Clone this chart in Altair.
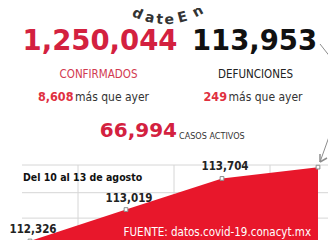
import math
import altair as alt
import pandas as pd

# ---- data ----
day_index = [0, 1, 2, 3]
dates = ["10 ago", "11 ago", "12 ago", "13 ago"]
deaths = [112326, 113019, 113704, 113953]
death_labels = ["112,326", "113,019", "113,704", ""]
grid_values = [112830, 113390, 114000]
grid_days = [0.5, 1.5, 2.5]

confirmed_txt = "1,250,044"
deaths_txt = "113,953"
new_confirmed_txt = "8,608"
new_deaths_txt = "249"
active_txt = "66,994"
arc_chars = ["d", "a", "t", "e", "E", "n"]
arc_angles = [-24, -13, -4.5, 3.5, 15, 29]

RED = "#d3213f"
AREA_RED = "#e8172b"
NARROW = "DejaVu Sans Condensed, DejaVu Sans, sans-serif"
BOLD = "DejaVu Sans"

df = pd.DataFrame({"i": day_index, "fecha": dates, "def": deaths, "lab": death_labels})

xs = alt.Scale(domain=[0, 3], range=[22, 310])
ys = alt.Scale(domain=[112260, 114000], range=[236, 157], zero=False, nice=False)


def txt(text, x, y, size, color, font, weight="normal", align="center", angle=0):
    return alt.Chart(pd.DataFrame({"t": [text]})).mark_text(
        font=font, fontSize=size, fontWeight=weight, color=color,
        align=align, baseline="alphabetic", angle=angle
    ).encode(text="t:N", x=alt.value(x), y=alt.value(y))


layers = []

# gridlines
layers.append(
    alt.Chart(pd.DataFrame({"g": grid_values})).mark_rule(color="#d6d6d6", strokeWidth=1)
    .encode(y=alt.Y("g:Q", scale=ys, axis=None), x=alt.value(14), x2=alt.value(325))
)
layers.append(
    alt.Chart(pd.DataFrame({"gx": grid_days})).mark_rule(color="#d6d6d6", strokeWidth=1)
    .encode(x=alt.X("gx:Q", scale=xs, axis=None), y=alt.value(157), y2=alt.value(236))
)

# area
layers.append(
    alt.Chart(df).mark_area(color=AREA_RED, opacity=1)
    .encode(x=alt.X("i:Q", scale=xs, axis=None),
            y=alt.Y("def:Q", scale=ys, axis=None),
            y2=alt.datum(112260))
)
# points
layers.append(
    alt.Chart(df).mark_square(size=14, fill="white", stroke="#8c8c8c", strokeWidth=1, opacity=1)
    .encode(x=alt.X("i:Q", scale=xs, axis=None), y=alt.Y("def:Q", scale=ys, axis=None))
)
# point labels
layers.append(
    alt.Chart(df).transform_filter("datum.lab != ''")
    .mark_text(font=NARROW, fontSize=11.5, fontWeight="bold", color="#222",
               align="center", baseline="alphabetic", dy=-8, dx=3)
    .encode(x=alt.X("i:Q", scale=xs, axis=None), y=alt.Y("def:Q", scale=ys, axis=None),
            text="lab:N")
)

# headline texts
layers += [
    txt(confirmed_txt, 92, 42, 27.5, RED, BOLD, "bold"),
    txt(deaths_txt, 246.5, 42, 27.5, "#111111", BOLD, "bold"),
    txt("CONFIRMADOS", 90.5, 70, 11.5, "#d23a50", NARROW),
    txt("DEFUNCIONES", 247.5, 70, 11.5, "#222222", NARROW),
    txt(new_confirmed_txt, 65.5, 93, 12.5, "#e0303f", NARROW, "bold", "right"),
    txt("más que ayer", 67, 93, 12, "#333333", NARROW, "normal", "left"),
    txt(new_deaths_txt, 219, 93, 12.5, "#e0303f", NARROW, "bold", "right"),
    txt("más que ayer", 220.5, 93, 12, "#333333", NARROW, "normal", "left"),
    txt(active_txt, 169, 129, 20, RED, BOLD, "bold", "right"),
    txt("CASOS ACTIVOS", 171, 131, 9, "#333333", NARROW, "normal", "left"),
    txt("Del 10 al 13 de agosto", 15, 173, 10.5, "#111111", NARROW, "bold", "left"),
    txt("FUENTE: datos.covid-19.conacyt.mx", 303, 228, 11.5, "white", NARROW, "normal", "right"),
]

# curved hashtag text
cx, cy, r = 157, -56, 72
for ch, phi in zip(arc_chars, arc_angles):
    rad = math.radians(phi)
    x = cx + r * math.sin(rad)
    y = cy + r * math.cos(rad)
    ang = (-phi) % 360
    layers.append(txt(ch, x, y, 14, "#333333", BOLD, "bold", "center", ang))

# arrow from the headline number to the last point
layers.append(alt.Chart(pd.DataFrame({"a": [0]})).mark_rule(color="#8c8c8c", strokeWidth=1)
              .encode(x=alt.value(312), y=alt.value(36), x2=alt.value(334), y2=alt.value(64)))
layers.append(alt.Chart(pd.DataFrame({"a": [0]})).mark_rule(color="#8c8c8c", strokeWidth=1)
              .encode(x=alt.value(322), y=alt.value(126), x2=alt.value(312), y2=alt.value(154)))
layers.append(alt.Chart(pd.DataFrame({"a": [0]})).mark_rule(color="#8c8c8c", strokeWidth=1.5)
              .encode(x=alt.value(312), y=alt.value(154), x2=alt.value(312), y2=alt.value(146)))
layers.append(alt.Chart(pd.DataFrame({"a": [0]})).mark_rule(color="#8c8c8c", strokeWidth=1.5)
              .encode(x=alt.value(312), y=alt.value(154), x2=alt.value(319), y2=alt.value(150)))

chart = alt.layer(*layers).properties(
    width=320, height=232, padding=0,
    autosize=alt.AutoSizeParams(type="none"),
    background="white",
).configure_view(stroke=None)

chart.save("out.html", embed_options={"renderer": "svg", "actions": False})
